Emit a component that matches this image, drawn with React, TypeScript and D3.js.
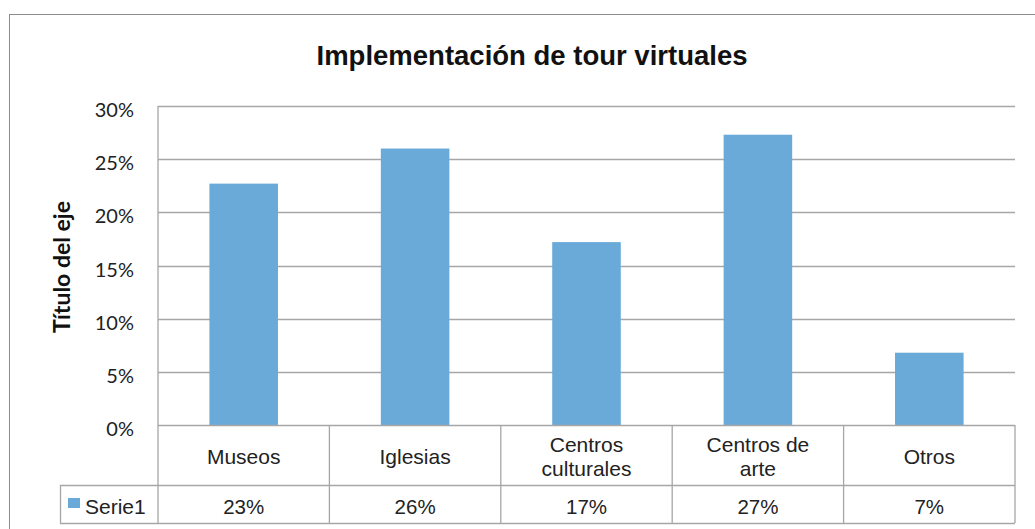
import React, {useEffect, useRef} from 'react';
import * as d3 from 'd3';

const categories = [['Museos'], ['Iglesias'], ['Centros', 'culturales'], ['Centros de', 'arte'], ['Otros']];
const values = [0.227, 0.26, 0.172, 0.273, 0.068];
const valueLabels = ['23%', '26%', '17%', '27%', '7%'];
const yTicks = [0, 0.05, 0.1, 0.15, 0.2, 0.25, 0.3];
const seriesName = 'Serie1';
const chartTitle = 'Implementación de tour virtuales';
const axisTitle = 'Título del eje';

const W = 1035, H = 529;
const plot = {left: 158, right: 1015, top: 106, bottom: 425};
const rowBottom1 = 485, rowBottom2 = 523, legendLeft = 60;
const barColor = '#6aaad9';
const gridColor = '#a6a6a6';
const sans = '"Liberation Sans", Arial, sans-serif';
const calib = 'Lato, "Open Sans", sans-serif';

export default function App() {
  const svgRef = useRef<SVGSVGElement>(null);

  useEffect(() => {
    const svg = d3.select(svgRef.current);
    svg.selectAll('*').remove();

    const x = d3.scaleBand<number>()
      .domain(values.map((v, i) => i))
      .range([plot.left, plot.right])
      .paddingInner(0).paddingOuter(0);
    const y = d3.scaleLinear().domain([0, 0.3]).range([plot.bottom, plot.top]);

    // outer frame
    svg.append('rect')
      .attr('x', 9.5).attr('y', 14.5).attr('width', W + 10).attr('height', H + 10)
      .attr('fill', 'white').attr('stroke', '#8c8c8c').attr('stroke-width', 1);

    svg.append('text')
      .attr('x', 532).attr('y', 65)
      .attr('text-anchor', 'middle')
      .attr('font-family', sans).attr('font-weight', 'bold').attr('font-size', 27.5)
      .attr('fill', '#111')
      .text(chartTitle);

    // gridlines
    svg.append('g').selectAll('line')
      .data(yTicks.slice(1))
      .join('line')
      .attr('x1', plot.left).attr('x2', plot.right)
      .attr('y1', d => Math.round(y(d)) + 0.5).attr('y2', d => Math.round(y(d)) + 0.5)
      .attr('stroke', gridColor).attr('stroke-width', 1.3);

    // y tick labels
    svg.append('g').selectAll('text')
      .data(yTicks)
      .join('text')
      .attr('x', 134).attr('y', d => y(d) + 11)
      .attr('text-anchor', 'end')
      .attr('font-family', calib).attr('font-size', 20).attr('fill', '#222')
      .text(d => d3.format('.0%')(d));

    svg.append('text')
      .attr('transform', `translate(70,${267}) rotate(-90)`)
      .attr('text-anchor', 'middle')
      .attr('font-family', calib).attr('font-weight', 'bold').attr('font-size', 23)
      .attr('fill', '#111')
      .text(axisTitle);

    // bars
    const bw = x.bandwidth() * 0.4;
    svg.append('g').selectAll('rect')
      .data(values)
      .join('rect')
      .attr('x', (d, i) => (x(i) as number) + (x.bandwidth() - bw) / 2)
      .attr('y', d => y(d))
      .attr('width', bw)
      .attr('height', d => y(0) - y(d))
      .attr('fill', barColor);

    // data table lines
    const t = svg.append('g').attr('stroke', gridColor).attr('stroke-width', 1.3);
    t.append('line').attr('x1', plot.left).attr('x2', plot.left).attr('y1', plot.top).attr('y2', rowBottom2);
    t.append('line').attr('x1', plot.left).attr('x2', plot.right).attr('y1', plot.bottom + 0.5).attr('y2', plot.bottom + 0.5);
    t.append('line').attr('x1', legendLeft).attr('x2', plot.right).attr('y1', rowBottom1 + 0.5).attr('y2', rowBottom1 + 0.5);
    t.append('line').attr('x1', legendLeft).attr('x2', plot.right).attr('y1', rowBottom2 + 0.5).attr('y2', rowBottom2 + 0.5);
    t.append('line').attr('x1', legendLeft + 0.5).attr('x2', legendLeft + 0.5).attr('y1', rowBottom1).attr('y2', rowBottom2);
    t.selectAll('.sep')
      .data(values.map((v, i) => i))
      .join('line')
      .attr('class', 'sep')
      .attr('x1', i => (x(i) as number) + x.bandwidth())
      .attr('x2', i => (x(i) as number) + x.bandwidth())
      .attr('y1', plot.bottom).attr('y2', rowBottom2);

    // category labels
    const cat = svg.append('g')
      .attr('font-family', sans).attr('font-size', 21).attr('fill', '#222').attr('text-anchor', 'middle');
    categories.forEach((lines, i) => {
      const cx = (x(i) as number) + x.bandwidth() / 2;
      const mid = 464;
      lines.forEach((l, j) => {
        cat.append('text')
          .attr('x', cx)
          .attr('y', mid + (j - (lines.length - 1) / 2) * 24)
          .text(l);
      });
    });

    // value row
    svg.append('g').selectAll('text')
      .data(valueLabels)
      .join('text')
      .attr('x', (d, i) => (x(i) as number) + x.bandwidth() / 2)
      .attr('y', 514)
      .attr('text-anchor', 'middle')
      .attr('font-family', sans).attr('font-size', 20.5).attr('fill', '#222')
      .text(d => d);

    // legend key
    svg.append('rect')
      .attr('x', 68).attr('y', 498).attr('width', 12).attr('height', 10)
      .attr('fill', barColor);
    svg.append('text')
      .attr('x', 85).attr('y', 514)
      .attr('font-family', sans).attr('font-size', 21).attr('fill', '#222')
      .text(seriesName);
  }, []);

  return (
    <svg ref={svgRef} width={W} height={H}
      style={{position: 'absolute', left: 0, top: 0, background: 'white'}} />
  );
}
